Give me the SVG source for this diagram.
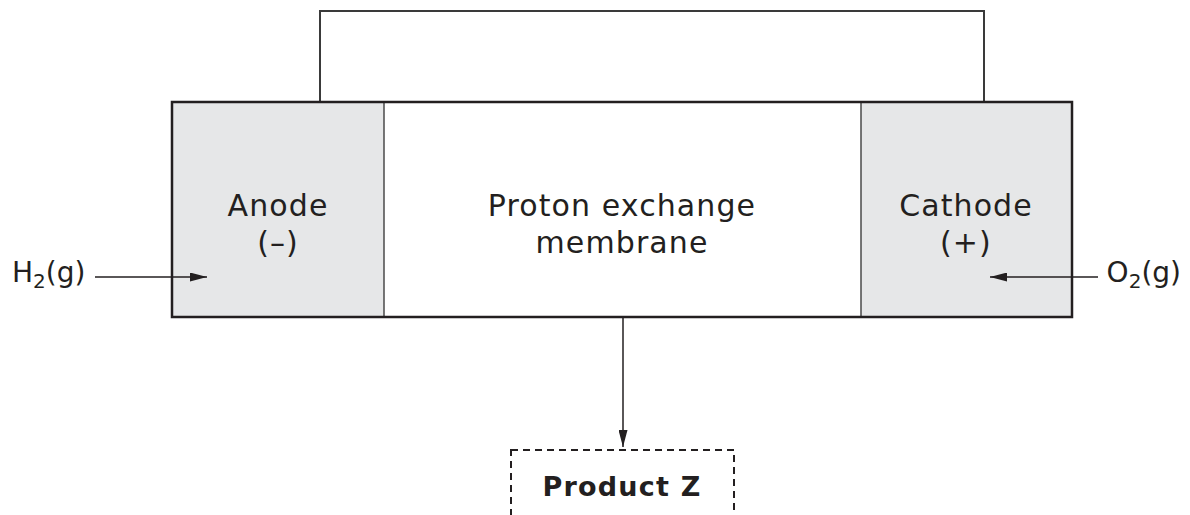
<svg xmlns="http://www.w3.org/2000/svg" width="1190" height="515" viewBox="0 0 1190 515">
  <style>
    .lbl { font-family: "DejaVu Sans", "Liberation Sans", sans-serif; font-size: 30px; fill: #231f20; letter-spacing: 1.1px; }
    .gas { font-family: "DejaVu Sans", "Liberation Sans", sans-serif; font-size: 28px; fill: #231f20; }
    .bold { font-weight: bold; font-size: 27px; letter-spacing: 1.2px; }
    .wire { fill: none; stroke: #3a3a3a; stroke-width: 2; }
    .div { fill: none; stroke: #4a4a4a; stroke-width: 1.5; }
    .arrow { fill: none; stroke: #231f20; stroke-width: 1.5; }
  </style>
  <defs>
    <marker id="head" viewBox="0 0 17 9" refX="17" refY="4.5" markerWidth="17" markerHeight="9" markerUnits="userSpaceOnUse" orient="auto">
      <path d="M0,0 L17,4.5 L0,9 Z" fill="#231f20"/>
    </marker>
  </defs>
  <rect width="1190" height="515" fill="#ffffff"/>

  <!-- external circuit -->
  <g id="circuit">
    <polyline class="wire" points="320,102 320,11 984,11 984,102"/>
  </g>

  <!-- fuel cell body -->
  <g id="anode">
    <rect x="172" y="102" width="212" height="215" fill="#e6e7e8"/>
    <text class="lbl" x="278" y="216" text-anchor="middle">Anode</text>
    <text class="lbl" x="278" y="253" text-anchor="middle">(–)</text>
  </g>
  <g id="membrane">
    <rect x="384" y="102" width="477" height="215" fill="#ffffff"/>
    <text class="lbl" x="622" y="216" text-anchor="middle">Proton exchange</text>
    <text class="lbl" x="622" y="253" text-anchor="middle">membrane</text>
  </g>
  <g id="cathode">
    <rect x="861" y="102" width="211" height="215" fill="#e6e7e8"/>
    <text class="lbl" x="966" y="216" text-anchor="middle">Cathode</text>
    <text class="lbl" x="966" y="253" text-anchor="middle">(+)</text>
  </g>
  <g id="cell-frame">
    <line class="div" x1="384" y1="102" x2="384" y2="317"/>
    <line class="div" x1="861" y1="102" x2="861" y2="317"/>
    <rect x="172" y="102" width="900" height="215" fill="none" stroke="#231f20" stroke-width="2.5"/>
  </g>

  <!-- reactant inputs -->
  <g id="h2">
    <text class="gas" x="12" y="282">H<tspan font-size="20" dy="6">2</tspan><tspan dy="-6">(g)</tspan></text>
  </g>
  <g id="o2">
    <text class="gas" x="1181" y="282" text-anchor="end">O<tspan font-size="20" dy="6">2</tspan><tspan dy="-6">(g)</tspan></text>
  </g>

  <!-- product -->
  <g id="product-z">
    <rect x="511" y="450" width="223" height="80" fill="none" stroke="#231f20" stroke-width="2" stroke-dasharray="7,5"/>
    <text class="lbl bold" x="622" y="496" text-anchor="middle">Product Z</text>
  </g>

  <g id="connectors">
    <line class="arrow" x1="95" y1="277" x2="207" y2="277" marker-end="url(#head)"/>
    <line class="arrow" x1="1098" y1="277" x2="990" y2="277" marker-end="url(#head)"/>
    <line class="arrow" x1="623" y1="318" x2="623" y2="447" marker-end="url(#head)"/>
  </g>
</svg>
